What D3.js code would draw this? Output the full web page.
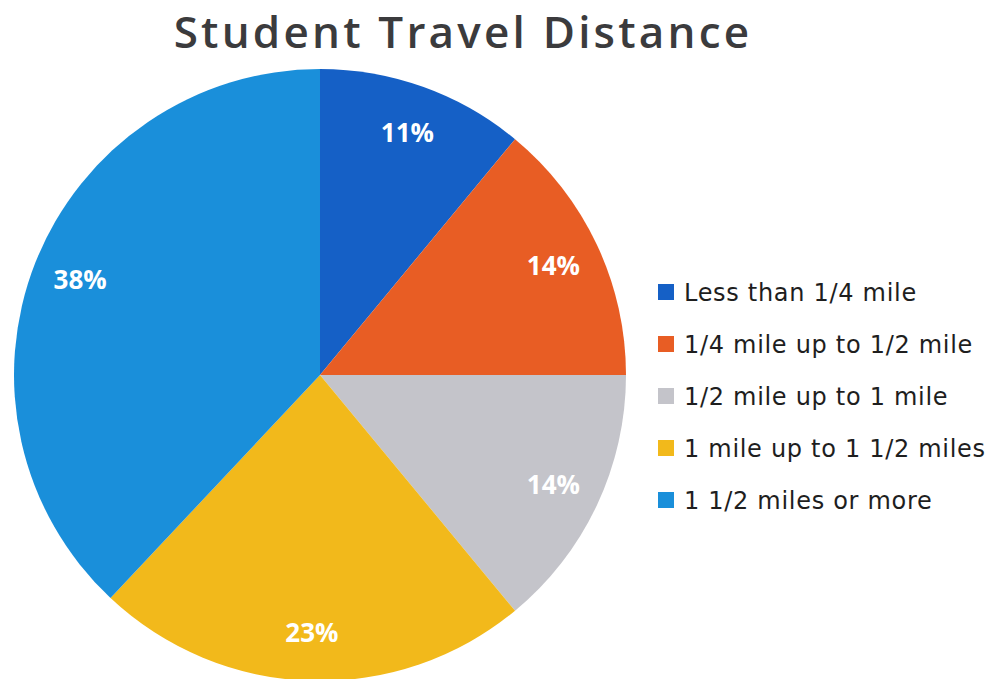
<!DOCTYPE html>
<html>
<head>
<meta charset="utf-8">
<script src="https://cdn.jsdelivr.net/npm/d3@7"></script>
<style>
  body { margin: 0; background: #fff; }
  svg { display: block; }
</style>
</head>
<body>
<svg width="993" height="679"></svg>
<script>
// pie data
var categories = ['Less than 1/4 mile', '1/4 mile up to 1/2 mile', '1/2 mile up to 1 mile',
  '1 mile up to 1 1/2 miles', '1 1/2 miles or more'];
var values = [11, 14, 14, 23, 38];
var colors = ['#1560c6', '#e85d24', '#c4c4ca', '#f2b91b', '#1a8fda'];

var svg = d3.select('svg');
var cx = 320, cy = 375, r = 306;

svg.append('text')
  .attr('x', 463).attr('y', 48)
  .attr('text-anchor', 'middle')
  .style('font-family', '"Open Sans", sans-serif')
  .style('font-weight', '600')
  .style('font-size', '44px')
  .style('letter-spacing', '3.2px')
  .style('fill', '#3b3b3d')
  .text('Student Travel Distance');

var pie = d3.pie().sort(null).value(function(d) { return d; });
var arcs = pie(values);
var arc = d3.arc().innerRadius(0).outerRadius(r);
var labelArc = d3.arc().innerRadius(258).outerRadius(258);

var g = svg.append('g').attr('transform', 'translate(' + cx + ',' + cy + ')');

g.selectAll('path')
  .data(arcs)
  .enter()
  .append('path')
  .attr('d', arc)
  .attr('fill', function(d, i) { return colors[i]; });

g.selectAll('text')
  .data(arcs)
  .enter()
  .append('text')
  .attr('transform', function(d) { return 'translate(' + labelArc.centroid(d) + ')'; })
  .attr('text-anchor', 'middle')
  .attr('dy', '0.36em')
  .style('font-family', '"Open Sans", sans-serif')
  .style('font-weight', 'bold')
  .style('font-size', '26px')
  .style('fill', '#fff')
  .text(function(d) { return d.data + '%'; });

// legend
var ly = d3.scaleBand().domain(categories).range([266, 526]);
var leg = svg.selectAll('.leg')
  .data(categories)
  .enter()
  .append('g')
  .attr('class', 'leg')
  .attr('transform', function(d) { return 'translate(658,' + (ly(d) + ly.bandwidth() / 2) + ')'; });

leg.append('rect')
  .attr('x', 0).attr('y', -8)
  .attr('width', 16).attr('height', 16)
  .attr('fill', function(d, i) { return colors[i]; });

leg.append('text')
  .attr('x', 26)
  .attr('dy', '0.36em')
  .style('font-family', '"DejaVu Sans", sans-serif')
  .style('font-size', '24px')
  .style('letter-spacing', '0.7px')
  .style('fill', '#1e1e1e')
  .text(function(d) { return d; });
</script>
</body>
</html>
